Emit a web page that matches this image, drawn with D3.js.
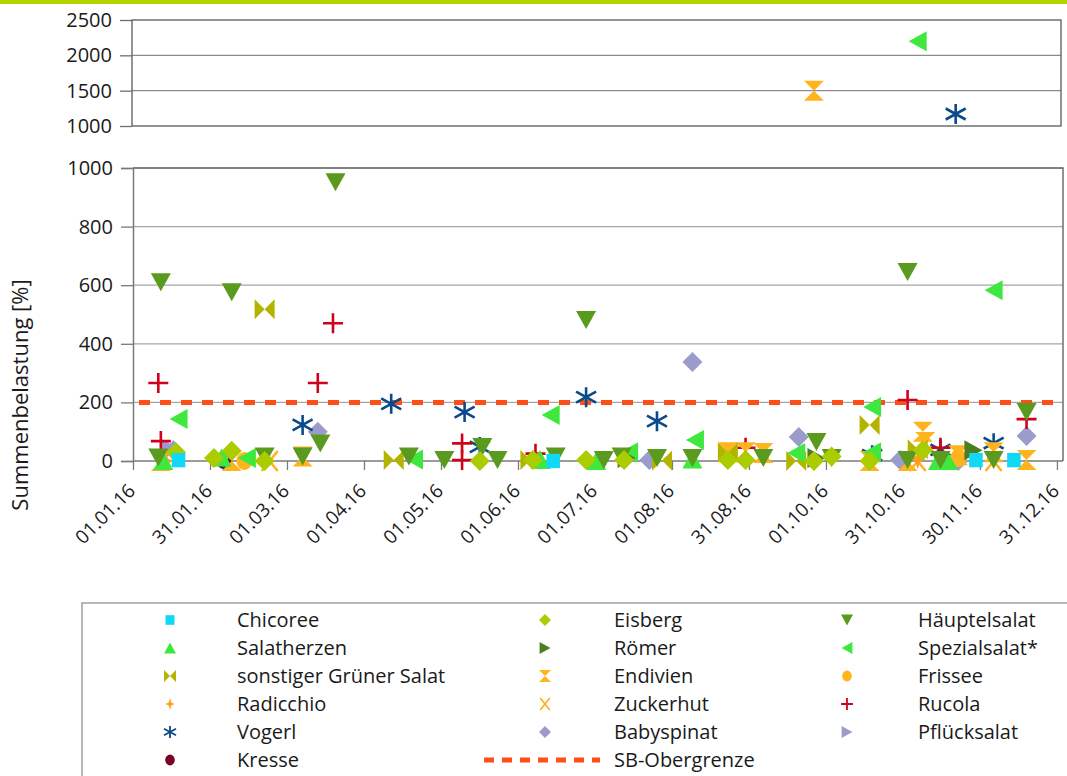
<!DOCTYPE html>
<html>
<head>
<meta charset="utf-8">
<script src="https://cdn.jsdelivr.net/npm/d3@7"></script>
<style>
  body { margin: 0; background: #fff; font-family: "Open Sans", sans-serif; }
  text { fill: #1a1a1a; }
</style>
</head>
<body>
<svg id="chart" width="1067" height="776"></svg>
<script>
// values: [day since 01.01.16, Summenbelastung %]
const chicoree   = [[18,3],[166,0],[333,3],[348,3]]
const eisberg    = [[17,30],[32,10],[39,35],[52,0],[137,0],[158,3],[179,3],[194,3],[235,3],[242,3],[269,0],[276,15],[291,0],[312,37]]
const haeuptel   = [[11,610],[10,12],[39,576],[52,15],[67,15],[74,60],[80,951],[109,15],[123,3],[138,48],[144,3],[167,15],[179,481],[186,3],[193,15],[207,10],[221,10],[249,10],[270,65],[276,10],[306,645],[306,3],[319,3],[340,3],[353,167]]
const salather   = [[12,0],[35,12],[161,3],[183,0],[221,5],[318,0],[322,0]]
const roemer     = [[195,10],[270,10],[332,37]]
const spezial    = [[18,143],[34,10],[45,10],[111,5],[165,157],[196,30],[222,72],[262,27],[292,30],[292,184],[340,583],[310,2200]]
const sonstiger  = [[52,518],[103,3],[157,3],[209,2],[235,30],[262,0],[291,123],[310,40]]
const endivien   = [[11,0],[39,0],[67,15],[235,30],[242,30],[249,27],[269,1500],[291,0],[306,0],[312,100],[313,65],[326,20],[340,30],[353,3]]
const frissee    = [[44,0],[326,10]]
const radicchio  = [[13,0],[310,5]]
const zuckerhut  = [[54,0],[310,0],[340,0]]
const rucola     = [[10,266],[11,68],[73,266],[79,470],[130,60],[130,3],[159,25],[242,45],[306,208],[319,45],[353,143]]
const vogerl     = [[36,3],[67,123],[102,195],[131,167],[137,48],[179,218],[207,136],[292,20],[319,38],[340,61],[325,1170]]
const babyspinat = [[16,37],[73,100],[204,3],[221,338],[263,82],[303,3],[326,0],[353,85]]
const pfluecksalat = [[15,40]]
const kresse     = [[36,3]]

const seriesNames = ["Chicoree","Eisberg","Häuptelsalat","Salatherzen","Römer","Spezialsalat*",
  "sonstiger Grüner Salat","Endivien","Frissee","Radicchio","Zuckerhut","Rucola",
  "Vogerl","Babyspinat","Pflücksalat","Kresse"]
const seriesValues = [chicoree, eisberg, haeuptel, salather, roemer, spezial, sonstiger, endivien,
  frissee, radicchio, zuckerhut, rucola, vogerl, babyspinat, pfluecksalat, kresse]
const seriesColors = ["#11d8f5","#abcc00","#5a9a1e","#3fe83f","#4d7e1e","#3fe83f","#b4b400","#ffb41e",
  "#ffb41e","#ff9c1a","#ffb41e","#d0021b","#0b4a8a","#9c9ccc","#9c9ccc","#7d0025"]
const seriesShapes = ["square","diamond","triDown","triUp","triRight","triLeft","bowtie","hourglass",
  "circle","star4","x","plus","asterisk","diamond","triRight","circle"]

const limitValue = 200
const limitName = "SB-Obergrenze"
const tickLabels = ["01.01.16","31.01.16","01.03.16","01.04.16","01.05.16","01.06.16","01.07.16",
  "01.08.16","31.08.16","01.10.16","31.10.16","30.11.16","31.12.16"]

const svg = d3.select("#chart")

// green bar on top
svg.append("rect").attr("x", 0).attr("y", 0).attr("width", 1067).attr("height", 4).attr("fill", "#b5d300")

// scales
const x = d3.scaleLinear().domain([0, 367.4]).range([133, 1063])
const yMain = d3.scaleLinear().domain([0, 1000]).range([461, 168])
const yTop = d3.scaleLinear().domain([1000, 2500]).range([126, 20])

function shapePath(shape, r) {
  const h = r * 0.9
  switch (shape) {
    case "square": return `M${-r*0.75},${-r*0.8}H${r*0.75}V${r*0.8}H${-r*0.75}Z`
    case "diamond": return `M0,${-r}L${r},0L0,${r}L${-r},0Z`
    case "triDown": return `M${-r},${-h}L${r},${-h}L0,${h}Z`
    case "triUp": return `M${-r},${h}L${r},${h}L0,${-h}Z`
    case "triRight": return `M${-h},${-r}L${h},0L${-h},${r}Z`
    case "triLeft": return `M${h},${-r}L${-h},0L${h},${r}Z`
    case "bowtie": return `M${-r},${-r}L0,0L${-r},${r}ZM${r},${-r}L0,0L${r},${r}Z`
    case "hourglass": return `M${-r},${-r}L${r},${-r}L0,0ZM${-r},${r}L${r},${r}L0,0Z`
    case "circle": return `M${-r*0.8},0A${r*0.8},${r*0.9} 0 1,0 ${r*0.8},0A${r*0.8},${r*0.9} 0 1,0 ${-r*0.8},0Z`
    case "star4": return `M0,${-r}L${r*0.22},${-r*0.22}L${r*0.8},0L${r*0.22},${r*0.22}L0,${r}L${-r*0.22},${r*0.22}L${-r*0.8},0L${-r*0.22},${-r*0.22}Z`
    case "x": return `M${-r*0.8},${-r}L${r*0.8},${r}M${r*0.8},${-r}L${-r*0.8},${r}`
    case "plus": return `M${-r},0H${r}M0,${-r}V${r}`
    case "asterisk": return `M0,${-r}V${r}M${-r},${-r*0.55}L${r},${r*0.55}M${r},${-r*0.55}L${-r},${r*0.55}`
  }
}
const isStroke = s => s === "x" || s === "plus" || s === "asterisk"

// ---------- top panel (1000 - 2500) ----------
const topG = svg.append("g")
topG.selectAll(".gridTop")
  .data([1500, 2000])
  .join("line")
    .attr("x1", 132).attr("x2", 1061)
    .attr("y1", d => yTop(d)).attr("y2", d => yTop(d))
    .attr("stroke", "#8c8c8c").attr("stroke-width", 1.3)
topG.append("rect")
  .attr("x", 132).attr("y", yTop(2500))
  .attr("width", 1061 - 132).attr("height", yTop(1000) - yTop(2500))
  .attr("fill", "none").attr("stroke", "#5a5a5a").attr("stroke-width", 1.3)

const yAxisTop = topG.append("g")
  .attr("transform", "translate(132,0)")
  .call(d3.axisLeft(yTop).tickValues([1000, 1500, 2000, 2500]).tickFormat(d3.format("d")).tickSize(12).tickPadding(8))
yAxisTop.select(".domain").remove()
yAxisTop.selectAll("line").attr("stroke", "#6e6e6e").attr("stroke-width", 1.3)
yAxisTop.selectAll("text").attr("font-size", 20).attr("font-family", "Open Sans").attr("fill", "#1a1a1a")

// ---------- main panel (0 - 1000) ----------
const mainG = svg.append("g")
mainG.selectAll(".gridMain")
  .data([200, 400, 600, 800])
  .join("line")
    .attr("x1", 133).attr("x2", 1063)
    .attr("y1", d => yMain(d)).attr("y2", d => yMain(d))
    .attr("stroke", "#a6a6a6").attr("stroke-width", 1.3)
// frame top + right
mainG.append("path")
  .attr("d", `M133,${yMain(1000)}H1063V${yMain(0)}`)
  .attr("fill", "none").attr("stroke", "#5a5a5a").attr("stroke-width", 1.3)

const yAxis = mainG.append("g")
  .attr("transform", "translate(133,0)")
  .call(d3.axisLeft(yMain).tickValues([0, 200, 400, 600, 800, 1000]).tickFormat(d3.format("d")).tickSize(12).tickPadding(8))
yAxis.select(".domain").attr("stroke", "#7a7a7a").attr("stroke-width", 1.5)
yAxis.selectAll("line").attr("stroke", "#7a7a7a").attr("stroke-width", 1.3)
yAxis.selectAll("text").attr("font-size", 20).attr("font-family", "Open Sans").attr("fill", "#1a1a1a")

const xAxis = mainG.append("g")
  .attr("transform", `translate(0,${yMain(0)})`)
  .call(d3.axisBottom(x)
    .tickValues(d3.range(tickLabels.length).map(i => i * 365 / 12))
    .tickFormat((d, i) => tickLabels[i])
    .tickSize(9))
xAxis.select(".domain").attr("stroke", "#7a7a7a").attr("stroke-width", 1.5).attr("d", "M133,0H1063")
xAxis.selectAll("line").attr("stroke", "#7a7a7a").attr("stroke-width", 1.3)
xAxis.selectAll("text")
  .attr("font-size", 19).attr("font-family", "Open Sans").attr("fill", "#1a1a1a")
  .attr("text-anchor", "end")
  .attr("dy", 0)
  .attr("transform", "translate(3,31) rotate(-45)")
  .attr("y", 0).attr("x", 0)

// limit line
mainG.append("line")
  .attr("x1", 133).attr("x2", 1063)
  .attr("y1", yMain(limitValue)).attr("y2", yMain(limitValue))
  .attr("stroke", "#ff4e17").attr("stroke-width", 5).attr("stroke-dasharray", "11,10")
  .attr("stroke-dashoffset", -6)

// markers, drawn last series first
const markerG = svg.append("g")
d3.range(seriesValues.length).reverse().forEach(i => {
  const shape = seriesShapes[i]
  const col = seriesColors[i]
  const r = shape === "square" ? 9 : 10
  markerG.selectAll(null)
    .data(seriesValues[i])
    .join("path")
      .attr("transform", d => `translate(${x(d[0])},${d[1] > 1000 ? yTop(d[1]) : yMain(d[1])})`)
      .attr("d", shapePath(shape, r))
      .attr("fill", isStroke(shape) ? "none" : col)
      .attr("stroke", isStroke(shape) ? col : "none")
      .attr("stroke-width", 2.6)
})

// y title
svg.append("text")
  .attr("transform", "translate(28,395) rotate(-90)")
  .attr("text-anchor", "middle")
  .attr("font-size", 22)
  .text("Summenbelastung [%]")

// ---------- legend ----------
svg.append("rect")
  .attr("x", 82).attr("y", 603).attr("width", 1000).attr("height", 200)
  .attr("fill", "none").attr("stroke", "#a0a0a0").attr("stroke-width", 1.5)

const markerX = [170, 545, 847]
const labelX = [237, 614, 918]
const rowY = i => 620 + i * 28
const legend = svg.append("g")
const addLabel = (lx, ly, txt) => legend.append("text")
  .attr("x", lx).attr("y", ly)
  .attr("dy", "0.35em")
  .attr("font-size", 20)
  .text(txt)

seriesNames.forEach((name, i) => {
  const c = i % 3, row = Math.floor(i / 3)
  const shape = seriesShapes[i]
  legend.append("path")
    .attr("transform", `translate(${markerX[c]},${rowY(row)})`)
    .attr("d", shapePath(shape, 6))
    .attr("fill", isStroke(shape) ? "none" : seriesColors[i])
    .attr("stroke", isStroke(shape) ? seriesColors[i] : "none")
    .attr("stroke-width", 1.8)
  addLabel(labelX[c], rowY(row), name)
})
legend.append("line")
  .attr("x1", 484).attr("x2", 600)
  .attr("y1", rowY(5)).attr("y2", rowY(5))
  .attr("stroke", "#ff4e17").attr("stroke-width", 5).attr("stroke-dasharray", "10,8")
addLabel(labelX[1], rowY(5), limitName)
</script>
</body>
</html>
